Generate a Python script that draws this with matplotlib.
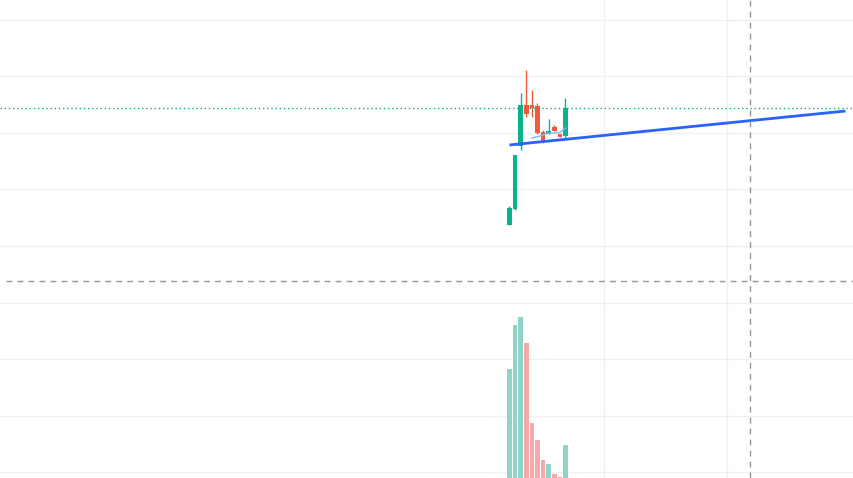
"""Candlestick chart with volume overlay and a trend line"""
import numpy as np
import matplotlib
matplotlib.use("Agg")
import matplotlib.pyplot as plt

# price data (one value per bar)
opens = [1.074, 1.131, 1.353, 1.498, 1.498, 1.495, 1.403, 1.396, 1.421, 1.396, 1.389]
highs = [1.141, 1.322, 1.541, 1.622, 1.551, 1.505, 1.410, 1.449, 1.428, 1.396, 1.523]
lows = [1.074, 1.127, 1.339, 1.456, 1.456, 1.396, 1.364, 1.396, 1.406, 1.385, 1.378]
closes = [1.134, 1.322, 1.498, 1.466, 1.488, 1.399, 1.371, 1.406, 1.406, 1.385, 1.488]
volumes = [1090, 1530, 1610, 1350, 550, 380, 180, 140, 40, 10, 330]

# short moving average (bars 4..10)
ma_idx = [4, 5, 6, 7, 8, 9, 10]
ma_vals = [1.382, 1.386, 1.392, 1.399, 1.399, 1.401, 1.417]

# drawn trend line (bar index, price)
trend_x = [0, 60]
trend_y = [1.357, 1.477]

last_price = closes[-1]
cross_x = 43
cross_y = 0.876
time_grid = [16.9, 38.8]
price_grid = np.arange(0.2, 1.81, 0.2)

up = "#0ab38a"
down = "#f05a3c"
up_vol = "#92d3c7"
down_vol = "#f7a8ab"

fig = plt.figure(figsize=(8.54, 4.78), dpi=100)
ax = fig.add_axes([0, 0, 1, 1])
ax.set_xlim(-90.98, 61.52)
ax.set_ylim(0.1802, 1.8693)

# grid goes on the base axes, volume bars sit above it
for g in price_grid:
    ax.axhline(g, color="#f0f0f3", lw=1, zorder=0)
for g in time_grid:
    ax.axvline(g, color="#f0f0f3", lw=1, zorder=0)

vax = ax.twinx()
vax.set_ylim(0, 4780)
x = np.arange(len(opens))
vcol = [up_vol if c >= o else down_vol for o, c in zip(opens, closes)]
vcol[7] = up_vol
vax.bar(x, volumes, width=0.82, color=vcol, zorder=1)
vax.axis("off")

# candles etc. on a third axes on top of the volume
cax = fig.add_axes([0, 0, 1, 1], sharex=ax, sharey=ax)
cax.patch.set_visible(False)

for i in range(len(opens)):
    col = up if closes[i] >= opens[i] else down
    cax.vlines(i, lows[i], highs[i], color=col, lw=1, zorder=3)
    lo = min(opens[i], closes[i])
    h = max(abs(closes[i] - opens[i]), 0.004)
    cax.bar(i, h, bottom=lo, width=0.85, color=col, zorder=4)

cax.plot(ma_idx, ma_vals, color="#7fb8f5", lw=1, zorder=5)
cax.plot(trend_x, trend_y, color="#2962ff", lw=2, zorder=6, solid_capstyle="butt")
cax.axhline(last_price, color=up, lw=1, ls=(0, (1, 2)), zorder=2)

dash = (0, (4.3, 3.6))
cax.axvline(cross_x, color="#9598a1", lw=1, ls=dash, zorder=7)
cax.hlines(cross_y, -89.9, 61.52, color="#9598a1", lw=1, ls=dash, zorder=7)

ax.axis("off")
cax.axis("off")
fig.savefig("out.png", dpi=100, facecolor="white")
